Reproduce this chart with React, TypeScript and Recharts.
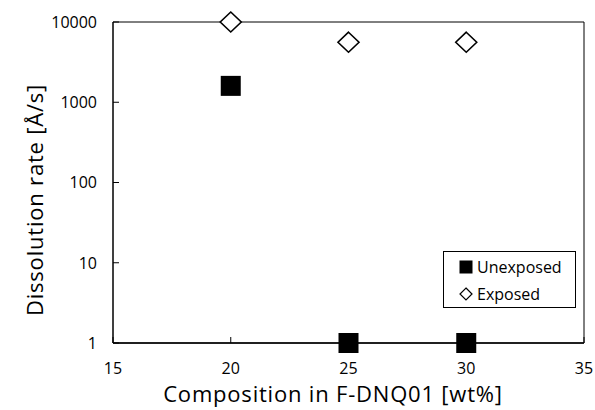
import React from 'react';
import { ScatterChart, Scatter, XAxis, YAxis, ReferenceArea, Legend } from 'recharts';

const compositions = [20, 25, 30];
const unexposedRates = [1600, 1, 1];
const exposedRates = [10000, 5600, 5600];
const xTicks = [15, 20, 25, 30, 35];
const yTicks = [1, 10, 100, 1000, 10000];
const seriesNames = ['Unexposed', 'Exposed'];
const xTitle = 'Composition in F-DNQ01 [wt%]';
const yTitle = 'Dissolution rate [Å/s]';

const unexposedData = compositions.map((c, i) => ({ x: c, y: unexposedRates[i] }));
const exposedData = compositions.map((c, i) => ({ x: c, y: exposedRates[i] }));

const FONT = '"Open Sans", sans-serif';

const Square = (props: any) => {
  const { cx, cy } = props;
  if (cx == null || cy == null) return null;
  return <rect x={cx - 10} y={cy - 10} width={20} height={20} fill="#000" />;
};

const Diamond = (props: any) => {
  const { cx, cy } = props;
  if (cx == null || cy == null) return null;
  return (
    <path
      d={`M${cx},${cy - 10} L${cx + 10.5},${cy} L${cx},${cy + 10} L${cx - 10.5},${cy} Z`}
      fill="#fff"
      stroke="#000"
      strokeWidth={1.6}
    />
  );
};

const YTick = (props: any) => {
  const { x, y, payload } = props;
  return (
    <g>
      <line x1={x + 16} x2={x + 22} y1={y} y2={y} stroke="#000" />
      <text x={x} y={y} dy="0.36em" textAnchor="end" fontFamily={FONT} fontSize={16} fill="#000">
        {payload.value}
      </text>
    </g>
  );
};

const XTick = (props: any) => {
  const { x, y, payload } = props;
  return (
    <g>
      <line x1={x} x2={x} y1={y - 20} y2={y - 26} stroke="#000" />
      <text x={x} y={y} dy="0.71em" textAnchor="middle" fontFamily={FONT} fontSize={16} fill="#000">
        {payload.value}
      </text>
    </g>
  );
};

const XTitle = () => (
  <text x={333} y={402} textAnchor="middle" fontFamily={FONT} fontSize={22} letterSpacing={0.8} fill="#000">
    {xTitle}
  </text>
);

const YTitle = () => (
  <text
    x={43}
    y={200}
    transform="rotate(-90, 43, 200)"
    textAnchor="middle"
    fontFamily={FONT}
    fontSize={22}
    letterSpacing={0.8}
    fill="#000"
  >
    {yTitle}
  </text>
);

const LegendBox = () => (
  <div
    style={{
      width: 133,
      height: 57,
      border: '1px solid #000',
      boxSizing: 'border-box',
      background: '#fff',
      fontFamily: FONT,
      fontSize: 16,
      color: '#000',
      position: 'relative',
    }}
  >
    <div style={{ position: 'absolute', left: 15, top: 5, height: 20, display: 'flex', alignItems: 'center' }}>
      <svg width={14} height={14} style={{ marginRight: 4 }}>
        <rect x={0.5} y={0.5} width={13} height={13} fill="#000" />
      </svg>
      <span>{seriesNames[0]}</span>
    </div>
    <div style={{ position: 'absolute', left: 15, top: 32, height: 20, display: 'flex', alignItems: 'center' }}>
      <svg width={14} height={14} style={{ marginRight: 4 }}>
        <path d="M7,1 L13,7 L7,13 L1,7 Z" fill="#fff" stroke="#000" strokeWidth={1.2} />
      </svg>
      <span>{seriesNames[1]}</span>
    </div>
  </div>
);

export default function App() {
  return (
    <div style={{ position: 'absolute', left: 0, top: 0, background: '#fff' }}>
      <ScatterChart width={595} height={410} margin={{ top: 22, right: 11, bottom: 0, left: 0 }}>
        <ReferenceArea x1={15} x2={35} y1={1} y2={10000} fill="none" stroke="#000" strokeWidth={1} ifOverflow="visible" />
        <XAxis
          type="number"
          dataKey="x"
          domain={[15, 35]}
          ticks={xTicks}
          height={67}
          tickSize={0}
          tickMargin={20}
          tickLine={false}
          tick={<XTick />}
          axisLine={{ stroke: '#000', strokeWidth: 1.5 }}
          label={<XTitle />}
        />
        <YAxis
          type="number"
          dataKey="y"
          scale="log"
          domain={[1, 10000]}
          ticks={yTicks}
          width={113}
          tickSize={0}
          tickMargin={16}
          tickLine={false}
          tick={<YTick />}
          axisLine={{ stroke: '#000', strokeWidth: 1 }}
          label={<YTitle />}
        />
        <Legend
          layout="horizontal"
          verticalAlign="middle"
          align="center"
          content={<LegendBox />}
          wrapperStyle={{ left: 443, top: 251, width: 133, height: 57 }}
        />
        <Scatter name={seriesNames[0]} data={unexposedData} shape={<Square />} isAnimationActive={false} />
        <Scatter name={seriesNames[1]} data={exposedData} shape={<Diamond />} isAnimationActive={false} />
      </ScatterChart>
    </div>
  );
}
